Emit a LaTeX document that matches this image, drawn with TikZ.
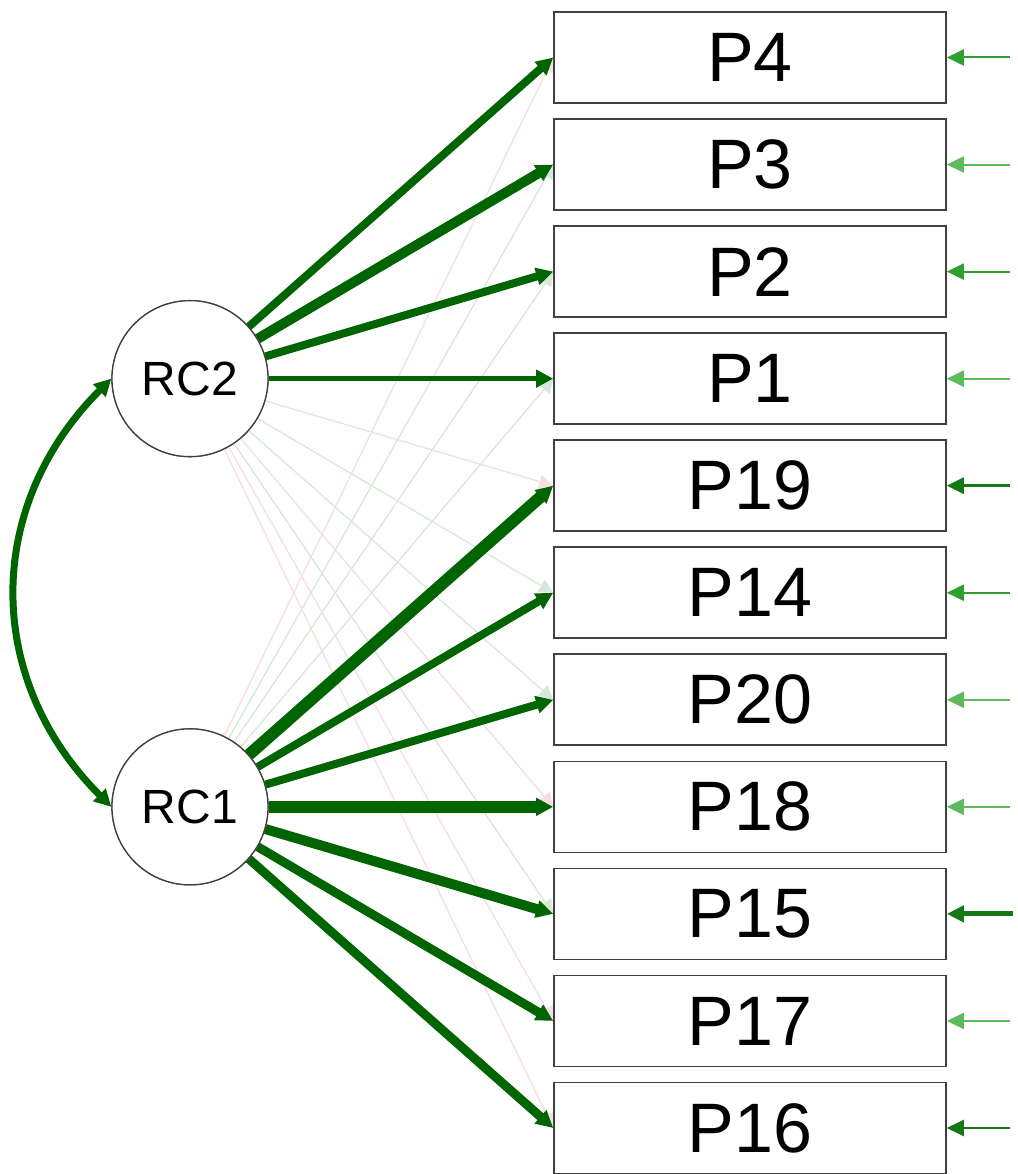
\documentclass[tikz,border=0pt]{standalone}
\usepackage{fontspec}
\setmainfont{Liberation Sans}
\usetikzlibrary{arrows.meta}
\definecolor{dg}{RGB}{0,100,0}
\definecolor{rdark}{RGB}{20,120,20}
\definecolor{rmed}{RGB}{45,160,45}
\definecolor{rlight}{RGB}{95,185,95}
\definecolor{fg}{RGB}{215,232,215}
\definecolor{fp}{RGB}{244,222,222}
\tikzset{
  obs/.style={draw=black!75, line width=1.6pt, fill=white, minimum width=392pt, minimum height=91pt, inner sep=0pt, font=\fontsize{70}{80}\selectfont},
  lat/.style={circle, draw=black!75, line width=1.3pt, fill=white, minimum size=156pt, inner sep=0pt, font=\fontsize{48}{56}\selectfont},
  load/.style={draw=dg, -{Triangle[length=17pt,width=17pt]}},
  faint/.style={line width=1.3pt, -{Triangle[length=14pt,width=14pt]}},
  res/.style={line width=2pt, -{Triangle[length=17pt,width=16pt]}},
}
\begin{document}
\begin{tikzpicture}[x=1pt,y=1pt]
\useasboundingbox (0,0) rectangle (1017,1174);
\coordinate (c2) at (190,795.35);
\coordinate (c1) at (190,367.15);
\node[lat] (RC2) at (c2) {};
\node[lat] (RC1) at (c1) {};
\path (750,1116.5) node[obs] (P4) {}
      (750,1009.45) node[obs] (P3) {}
      (750,902.4) node[obs] (P2) {}
      (750,795.35) node[obs] (P1) {}
      (750,688.3) node[obs] (P19) {}
      (750,581.25) node[obs] (P14) {}
      (750,474.2) node[obs] (P20) {}
      (750,367.15) node[obs] (P18) {}
      (750,260.1) node[obs] (P15) {}
      (750,153.05) node[obs] (P17) {}
      (750,46.0) node[obs] (P16) {};
% faint cross loadings
\draw[faint, fp] (RC2) -- (P19.west);
\draw[faint, fg] (RC2) -- (P14.west);
\draw[faint, fg] (RC2) -- (P20.west);
\draw[faint, fp] (RC2) -- (P18.west);
\draw[faint, fg] (RC2) -- (P15.west);
\draw[faint, fp] (RC2) -- (P17.west);
\draw[faint, fp] (RC2) -- (P16.west);
\draw[faint, fp] (RC1) -- (P4.west);
\draw[faint, fg] (RC1) -- (P3.west);
\draw[faint, fg] (RC1) -- (P2.west);
\draw[faint, fg] (RC1) -- (P1.west);
% strong loadings
\draw[load, line width=8pt] (RC2) -- (P4.west);
\draw[load, line width=10pt] (RC2) -- (P3.west);
\draw[load, line width=8pt] (RC2) -- (P2.west);
\draw[load, line width=5pt] (RC2) -- (P1.west);
\draw[load, line width=12pt] (RC1) -- (P19.west);
\draw[load, line width=8pt] (RC1) -- (P14.west);
\draw[load, line width=8pt] (RC1) -- (P20.west);
\draw[load, line width=12pt] (RC1) -- (P18.west);
\draw[load, line width=10pt] (RC1) -- (P15.west);
\draw[load, line width=9pt] (RC1) -- (P17.west);
\draw[load, line width=9pt] (RC1) -- (P16.west);
% nodes on top
\node[lat] at (RC2) {RC2};
\node[lat] at (RC1) {RC1};
\foreach \n in {P4,P3,P2,P1,P19,P14,P20,P18,P15,P17,P16}
  \node[obs] at (\n) {\n};
% covariance
\draw[dg, line width=7pt, {Triangle[length=17pt,width=17pt]}-{Triangle[length=17pt,width=17pt]}]
  (RC2.west) to[out=225, in=135, looseness=1.08] (RC1.west);
% residuals
\coordinate (e4) at (1010,1116.5);
\coordinate (e3) at (1010,1009.45);
\coordinate (e2) at (1010,902.4);
\coordinate (e1) at (1010,795.35);
\coordinate (e19) at (1010,688.3);
\coordinate (e14) at (1010,581.25);
\coordinate (e20) at (1010,474.2);
\coordinate (e18) at (1010,367.15);
\coordinate (e15) at (1013,260.1);
\coordinate (e17) at (1010,153.05);
\coordinate (e16) at (1010,46.0);
\draw[res, rmed] (e4) -- (P4.east);
\draw[res, rlight] (e3) -- (P3.east);
\draw[res, rmed] (e2) -- (P2.east);
\draw[res, rlight] (e1) -- (P1.east);
\draw[res, rdark, line width=2.5pt] (e19) -- (P19.east);
\draw[res, rmed] (e14) -- (P14.east);
\draw[res, rlight] (e20) -- (P20.east);
\draw[res, rlight] (e18) -- (P18.east);
\draw[res, rdark, line width=5pt] (e15) -- (P15.east);
\draw[res, rlight] (e17) -- (P17.east);
\draw[res, rdark, line width=2.5pt] (e16) -- (P16.east);
\end{tikzpicture}
\end{document}
